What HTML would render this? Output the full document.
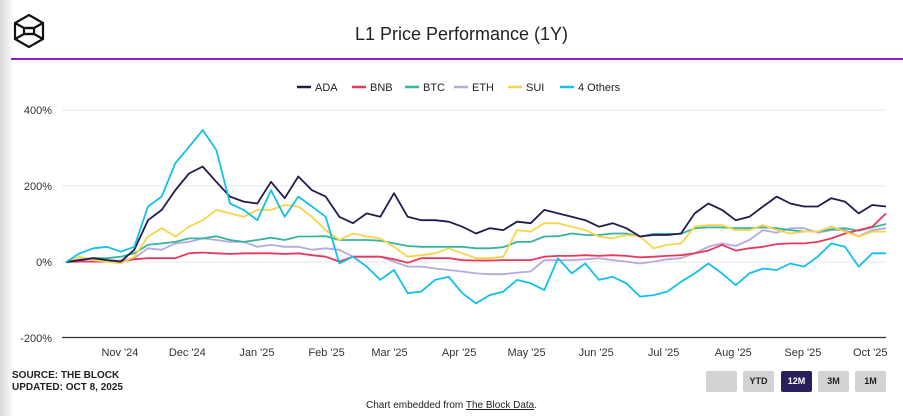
<!DOCTYPE html>
<html><head><meta charset="utf-8"><style>
body{margin:0;width:903px;height:416px;overflow:hidden;background:#fff;font-family:"Liberation Sans",sans-serif;position:relative}
.edge{position:absolute;left:0;top:0;width:14px;height:416px;background:linear-gradient(90deg,#d8d8d8,#fff)}
.btn{position:absolute;top:371px;height:21px;width:31px;background:#d3d3d3;border-radius:2px;font-size:9px;font-weight:bold;text-align:center;line-height:21px;color:#222}
</style></head><body>
<div class="edge"></div>
<svg style="position:absolute;left:11px;top:13px" width="36" height="36" viewBox="0 0 36 36"><g fill="none" stroke="#111" stroke-width="2.2"><polygon points="18,2 32,10 32,26 18,34 4,26 4,10"/><polyline points="4,10 13,15 23,15 32,10"/><polyline points="4,26 13,21 23,21 32,26"/><rect x="13" y="15" width="10" height="6"/></g></svg>
<div style="position:absolute;left:11px;top:58px;width:892px;height:2px;background:#8a1fd0"></div>
<div style="position:absolute;left:0;width:923px;top:24px;text-align:center;font-size:18px;color:#222">L1 Price Performance (1Y)</div>
<svg id="chart" width="903" height="416" style="position:absolute;left:0;top:0"></svg>
<div style="position:absolute;left:12px;top:370px;font-size:10px;font-weight:bold;color:#222;line-height:12px">SOURCE: THE BLOCK<br>UPDATED: OCT 8, 2025</div>
<div class="btn" style="left:706px"></div>
<div class="btn" style="left:743px">YTD</div>
<div class="btn" style="left:781px;background:#2a1f5c;color:#fff">12M</div>
<div class="btn" style="left:818px">3M</div>
<div class="btn" style="left:855px">1M</div>
<div style="position:absolute;left:0;width:903px;top:400px;text-align:center;font-size:10px;color:#222">Chart embedded from <span style="text-decoration:underline">The Block Data</span>.</div>
<script>
const seriesNames=["ADA","BNB","BTC","ETH","SUI","4 Others"];
const seriesColors=["#231a4f","#e8385c","#35b59c","#b7a9e0","#f7d44a","#13c0ea"];
const yTicks=[400,200,0,-200];
const xLabels=["Nov '24","Dec '24","Jan '25","Feb '25","Mar '25","Apr '25","May '25","Jun '25","Jul '25","Aug '25","Sep '25","Oct '25"];
const xLabelDays=[24,54,85,116,144,175,205,236,266,297,328,358];
const ada=[0,5,10,5,1,32,110,137,189,233,251,211,172,159,154,211,168,225,189,172,119,102,128,119,181,119,110,110,106,93,75,89,84,106,102,137,128,119,110,93,102,89,67,71,71,75,128,154,137,110,119,146,172,154,146,146,168,159,128,150,146];
const bnb=[0,1,1,1,1,7,10,10,10,23,25,23,21,23,23,23,21,23,18,14,1,14,14,14,7,-2,10,10,10,5,4,4,5,5,5,14,16,16,18,16,18,16,12,14,16,18,23,30,45,30,36,40,47,49,49,53,62,75,84,93,128];
const btc=[0,4,10,10,14,23,45,49,53,62,62,68,58,53,58,64,58,67,67,68,58,58,58,56,49,42,40,40,40,40,36,36,39,53,53,67,68,75,71,71,75,75,67,74,74,74,89,91,91,89,89,91,89,84,80,80,86,89,82,91,100];
const eth=[0,7,10,5,4,10,36,32,49,53,62,58,53,53,40,45,40,40,32,36,32,14,14,14,1,-12,-12,-17,-21,-25,-30,-32,-32,-28,-25,5,5,5,7,10,5,1,-4,1,7,10,23,40,49,42,58,84,77,89,89,77,84,84,68,84,89];
const sui=[0,14,5,1,-4,14,67,89,67,93,110,137,128,119,137,137,150,146,119,84,58,75,67,62,40,14,18,23,36,23,10,10,14,84,80,102,102,93,84,67,62,71,67,36,45,49,93,97,97,84,84,97,84,75,80,80,93,80,67,80,80];
const others=[0,23,36,40,27,40,146,172,260,303,347,295,154,137,110,189,119,172,146,119,-4,14,-12,-47,-21,-82,-78,-47,-39,-82,-109,-87,-78,-47,-56,-74,10,-30,-4,-47,-39,-56,-91,-87,-78,-52,-30,-4,-30,-61,-30,-17,-21,-4,-12,14,49,40,-12,23,23];
const allSeries=[ada,bnb,btc,eth,sui,others];
const totalDays=365;
const X0=66,X1=886,YZ=262,PX=0.38;
const xByIndex=(i,n)=>X0+(X1-X0)*i/(n-1);
const xByDay=d=>X0+(X1-X0)*d/totalDays;
const yScale=v=>YZ-v*PX;
const svg=document.getElementById('chart');
const NS='http://www.w3.org/2000/svg';
function mk(t,a){const e=document.createElementNS(NS,t);for(const k in a)e.setAttribute(k,a[k]);svg.appendChild(e);return e;}
yTicks.forEach(v=>{
  if(v!==-200){const g=mk('line',{x1:62,x2:886,y1:yScale(v),y2:yScale(v),stroke:'#e6e6e6','stroke-width':1});
  
  }
  const t=mk('text',{x:52,y:yScale(v)+4,'text-anchor':'end','font-size':11,fill:'#333','font-family':'Liberation Sans'});
  t.textContent=v+'%';
  
  
});
const ax=mk('line',{x1:62,x2:886,y1:337.5,y2:337.5,stroke:'#333','stroke-width':1.2});


xLabels.forEach((l,i)=>{
  const t=mk('text',{x:xByDay(xLabelDays[i]),y:356,'text-anchor':'middle','font-size':11,fill:'#333','font-family':'Liberation Sans'});
  t.textContent=l;
  
  
});
const order=[3,2,1,4,0,5];
order.forEach(s=>{
  const d=allSeries[s];
  const p=d.map((v,i)=>(i?'L':'M')+xByIndex(i,d.length).toFixed(1)+','+yScale(v).toFixed(1)).join('');
  const e=mk('path',{d:p,fill:'none',stroke:seriesColors[s],'stroke-width':1.8,'stroke-linejoin':'round'});
  
  
});
const legX=[297,352,405,454,508,560];
seriesNames.forEach((n,i)=>{
  const l=mk('line',{x1:legX[i],x2:legX[i]+14,y1:87,y2:87,stroke:seriesColors[i],'stroke-width':2.5});
  
  
  const t=mk('text',{x:legX[i]+18,y:91,'font-size':11,fill:'#222','font-family':'Liberation Sans'});
  t.textContent=n;
  
  
});
</script>
</body></html>
